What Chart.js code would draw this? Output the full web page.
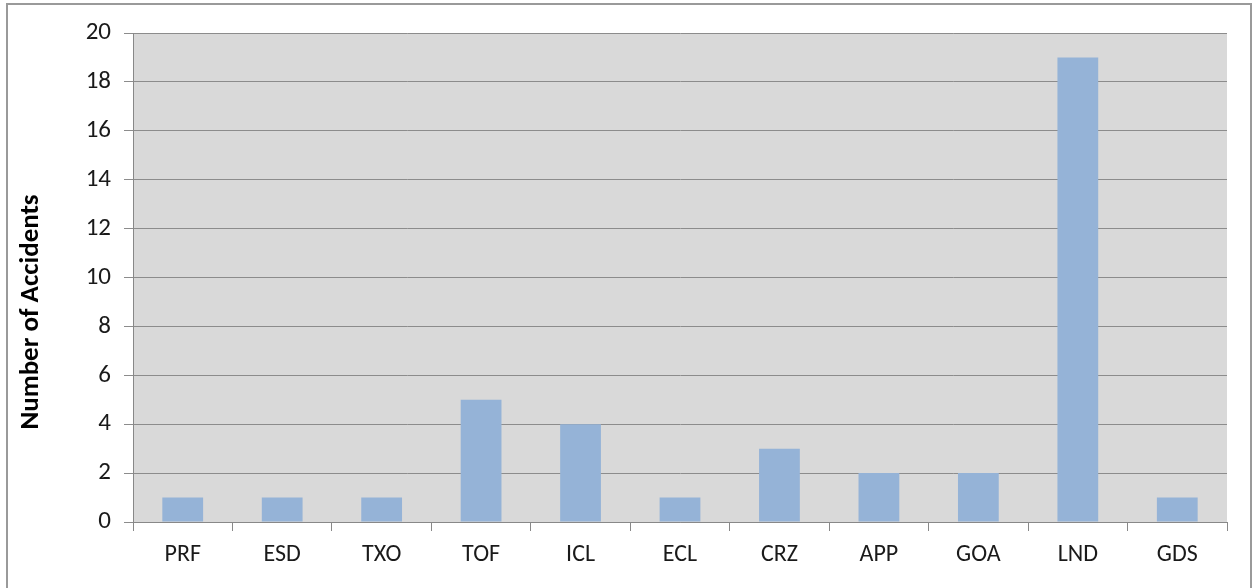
<!DOCTYPE html>
<html>
<head>
<meta charset="utf-8">
<script src="https://cdn.jsdelivr.net/npm/chart.js@4/dist/chart.umd.min.js"></script>
<style>
  body { margin: 0; background: #fff; }
  #wrap { position: relative; width: 1255px; height: 588px; }
</style>
</head>
<body>
<div id="wrap"><canvas id="chart" width="1255" height="588"></canvas></div>
<script>
// Accident counts by flight phase
const phases = ['PRF', 'ESD', 'TXO', 'TOF', 'ICL', 'ECL', 'CRZ', 'APP', 'GOA', 'LND', 'GDS'];
const accidents = [1, 1, 1, 5, 4, 1, 3, 2, 2, 19, 1];
const yTicks = [0, 2, 4, 6, 8, 10, 12, 14, 16, 18, 20];
const yTitle = 'Number of Accidents';

const FONT = "Carlito, Lato, 'Open Sans', sans-serif";

// grey plot area and the outer frame
const backdrop = {
    id: 'backdrop',
    beforeDraw(chart) {
        const { ctx, chartArea: a } = chart;
        ctx.save();
        ctx.fillStyle = '#d9d9d9';
        ctx.fillRect(a.left, a.top, a.right - a.left, a.bottom - a.top);
        ctx.strokeStyle = '#9a9a9a';
        ctx.lineWidth = 2;
        ctx.strokeRect(7, 4, 1244, 590);
        ctx.restore();
    },
    // axis title sits a bit below the plot middle, like the excel original
    afterDraw(chart) {
        const { ctx } = chart;
        ctx.save();
        ctx.translate(31, 312);
        ctx.rotate(-Math.PI / 2);
        ctx.fillStyle = '#000';
        ctx.font = 'bold 27px ' + FONT;
        ctx.textAlign = 'center';
        ctx.textBaseline = 'middle';
        ctx.fillText(yTitle, 0, 0);
        ctx.restore();
    }
};

new Chart(document.getElementById('chart'), {
    type: 'bar',
    data: {
        labels: phases,
        datasets: [{
            data: accidents,
            backgroundColor: '#95b3d7',
            borderWidth: 0,
            categoryPercentage: 1,
            barPercentage: 0.41
        }]
    },
    options: {
        responsive: false,
        animation: false,
        layout: { padding: { left: 9, top: 33, right: 28, bottom: 0 } },
        plugins: { legend: { display: false }, tooltip: { enabled: false } },
        scales: {
            x: {
                grid: { drawOnChartArea: false, drawTicks: true, tickLength: 9, color: '#888', offset: true },
                border: { color: '#888', width: 1 },
                ticks: { color: '#1a1a1a', font: { family: FONT, size: 24 }, padding: 10 },
                afterFit(scale) { scale.height = 66; }
            },
            y: {
                min: 0,
                max: 20,
                afterBuildTicks(scale) { scale.ticks = yTicks.map(v => ({ value: v })); },
                grid: { color: '#8c8c8c', tickLength: 9 },
                border: { color: '#888', width: 1 },
                ticks: { color: '#1a1a1a', font: { family: FONT, size: 25 }, padding: 13 },
                afterFit(scale) { scale.width = 124; }
            }
        }
    },
    plugins: [backdrop]
});
</script>
</body>
</html>
